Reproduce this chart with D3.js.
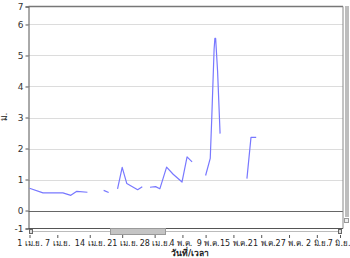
<!DOCTYPE html>
<html><head><meta charset="utf-8">
<script src="https://cdn.jsdelivr.net/npm/d3@7"></script>
<style>
html,body{margin:0;padding:0;background:#fff;}
svg{display:block;}
text{font-family:"DejaVu Sans",Verdana,sans-serif;}
</style></head>
<body><svg id="c" width="350" height="258"></svg>
<script>
// ---- data ----
const times = [
 "2011-04-01 00:00","2011-04-03 22:00","2011-04-08 05:00","2011-04-09 22:00","2011-04-11 05:00","2011-04-13 12:00",
 null,
 "2011-04-17 00:00","2011-04-18 02:00",
 null,
 "2011-04-20 00:00","2011-04-21 00:00","2011-04-22 00:00","2011-04-22 20:00","2011-04-24 08:00","2011-04-25 08:00",
 null,
 "2011-04-27 00:00","2011-04-28 05:00","2011-04-29 03:00","2011-04-30 14:00","2011-05-02 00:00","2011-05-03 22:00","2011-05-05 00:00","2011-05-06 02:00",
 null,
 "2011-05-09 00:00","2011-05-10 00:00","2011-05-10 08:00","2011-05-10 20:00","2011-05-11 00:00","2011-05-11 04:00","2011-05-11 14:00","2011-05-12 03:00",
 null,
 "2011-05-17 22:00","2011-05-18 19:00","2011-05-19 22:00"
];
const levels = [
 0.72,0.57,0.57,0.49,0.62,0.59,
 null,
 0.65,0.58,
 null,
 0.70,1.39,0.87,0.80,0.67,0.77,
 null,
 0.75,0.77,0.70,1.40,1.17,0.92,1.73,1.57,
 null,
 1.13,1.68,3.0,5.2,5.55,5.55,4.5,2.48,
 null,
 1.03,2.36,2.36
];
const xTickDates = ["2011-04-01","2011-04-07","2011-04-14","2011-04-21","2011-04-28","2011-05-04","2011-05-09","2011-05-15","2011-05-21","2011-05-27","2011-06-02","2011-06-07"];
const xTickLabels = ["1 เม.ย.","7 เม.ย.","14 เม.ย.","21 เม.ย.","28 เม.ย.","4 พ.ค.","9 พ.ค.","15 พ.ค.","21 พ.ค.","27 พ.ค.","2 มิ.ย.","7 มิ.ย."];
const yGridValues = [1,2,3,4,5,6];
const yTickLabels = ["-1","0","1","2","3","4","5","6","7"];
const yLabel = "ม.";
const xLabel = "วันที่/เวลา";

// ---- chart ----
const svg = d3.select("#c");
const L = 28.5, R = 343, T = 6.5, B = 228.5;
const parseT = d3.timeParse("%Y-%m-%d %H:%M");
const parseD = d3.timeParse("%Y-%m-%d");
const x = d3.scaleTime().domain([parseD("2011-04-01"), parseD("2011-06-07")]).range([L + 1, 340]);
const yMin = -0.58, yMax = 6.58;
const y = d3.scaleLinear().domain([yMin, yMax]).range([B, T]);

// gridlines
svg.append("g").selectAll("line").data(yGridValues).join("line")
  .attr("x1", L).attr("x2", R)
  .attr("y1", d => Math.round(y(d)) + 0.5).attr("y2", d => Math.round(y(d)) + 0.5)
  .attr("stroke", "#dcdcdc").attr("stroke-width", 1);
// zero line
svg.append("line").attr("x1", L).attr("x2", R)
  .attr("y1", Math.round(y(0)) + 0.5).attr("y2", Math.round(y(0)) + 0.5)
  .attr("stroke", "#666").attr("stroke-width", 1);

// frame
svg.append("line").attr("x1", L).attr("x2", R).attr("y1", T).attr("y2", T).attr("stroke", "#777").attr("stroke-width", 1.5);
svg.append("line").attr("x1", R).attr("x2", R).attr("y1", T).attr("y2", B).attr("stroke", "#888");
svg.append("line").attr("x1", L).attr("x2", R).attr("y1", B).attr("y2", B).attr("stroke", "#555");

// y axis
const yTickVals = [yMin,0,1,2,3,4,5,6,yMax];
const yAxis = d3.axisLeft(y).tickValues(yTickVals).tickSize(3).tickFormat((d, i) => yTickLabels[i]);
const gy = svg.append("g").attr("transform", `translate(${L},0)`).call(yAxis);
gy.select(".domain").attr("stroke", "#555");
gy.selectAll(".tick line").attr("stroke", "#555");
gy.selectAll(".tick text").attr("fill", "#333").style("font-size", "9px").attr("dx", "1px");

svg.append("text").text(yLabel)
  .attr("transform", `translate(7,117) rotate(-90)`)
  .attr("text-anchor", "middle").style("font-size", "9px").attr("fill", "#222");

// series
const pts = times.map((t, i) => ({t: t ? parseT(t) : null, v: levels[i]}));
const line = d3.line().defined(d => d.t && d.v != null).x(d => x(d.t)).y(d => y(d.v));
svg.append("path").datum(pts).attr("d", line)
  .attr("fill", "none").attr("stroke", "#7878ff").attr("stroke-width", 1.2).attr("stroke-linejoin", "round");

// horizontal scrollbar
const sbY = 231.5;
svg.append("line").attr("x1", L + 2).attr("x2", 340).attr("y1", sbY).attr("y2", sbY).attr("stroke", "#bbb");
svg.append("rect").attr("x", 110.5).attr("y", 228.5).attr("width", 55).attr("height", 6)
  .attr("fill", "#c4c4c4").attr("stroke", "#999");
svg.append("rect").attr("x", 29.5).attr("y", 229.5).attr("width", 3).attr("height", 4).attr("fill", "#ddd").attr("stroke", "#666");
svg.append("rect").attr("x", 338.5).attr("y", 229.5).attr("width", 3).attr("height", 4).attr("fill", "#ddd").attr("stroke", "#666");

// vertical scrollbar
svg.append("rect").attr("x", 345).attr("y", 6).attr("width", 4).attr("height", 211).attr("fill", "#bdbdbd");
svg.append("rect").attr("x", 344.5).attr("y", 218.5).attr("width", 4).attr("height", 4).attr("fill", "#eee").attr("stroke", "#999");

// x axis
const xAxis = d3.axisBottom(x).tickValues(xTickDates.map(parseD)).tickSize(3).tickPadding(2).tickFormat((d, i) => xTickLabels[i]);
const gx = svg.append("g").attr("transform", `translate(0,235)`).call(xAxis);
gx.select(".domain").remove();
gx.selectAll(".tick line").attr("stroke", "#555");
gx.selectAll(".tick text").attr("fill", "#222").style("font-size", "8px").attr("dy", "0.71em");
const nT = xTickLabels.length;
const labelShift = {5: -2, 6: 2};
gx.selectAll(".tick text").attr("dx", (d, i) => (labelShift[i] || 0) + "px");
gx.selectAll(".tick text").filter((d, i) => i === nT - 1).attr("text-anchor", "end").attr("dx", "10px");

svg.append("text").text(xLabel).attr("x", 190).attr("y", 256)
  .attr("text-anchor", "middle").style("font-size", "8.5px").style("font-weight", "bold").attr("fill", "#222");
</script></body></html>
